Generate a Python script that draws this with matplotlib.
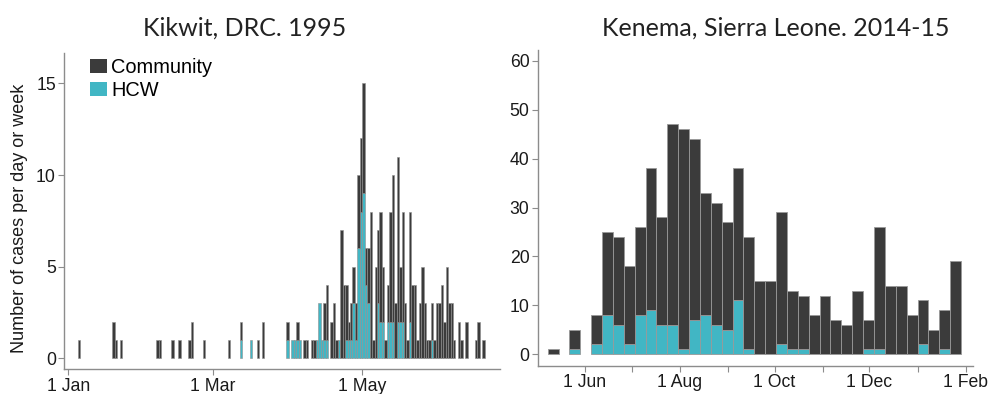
import numpy as np
import matplotlib.pyplot as plt
import matplotlib.dates as mdates
from matplotlib.patches import Patch
from matplotlib.ticker import FuncFormatter

plt.rcParams['font.family'] = ['Liberation Sans', 'DejaVu Sans']

# Kikwit, DRC 1995 - daily cases; day index counted from 1 Jan 1995
kik_day = [4, 18, 19, 21, 36, 37, 42, 45, 49, 50, 55, 65, 70, 74, 77, 79,
           89, 91, 92, 93, 94, 96, 97, 99, 100, 101, 102, 103, 104, 105,
           107, 108, 109, 110, 111, 112, 113, 114, 115, 116, 117, 118, 119,
           120, 121, 122, 123, 124, 125, 126, 127, 128, 129, 130, 131, 132,
           133, 134, 135, 136, 137, 138, 139, 140, 141, 142, 143, 144, 145,
           146, 147, 148, 149, 150, 151, 152, 153, 154, 155, 156, 157, 159,
           160, 162, 166, 167, 169]
kik_total = [1, 2, 1, 1, 1, 1, 1, 1, 1, 2, 1, 1, 2, 1, 1, 2,
             2, 1, 1, 2, 1, 1, 1, 1, 1, 1, 3, 1, 3, 4,
             2, 3, 1, 1, 7, 4, 4, 2, 3, 5, 3, 10, 12,
             15, 6, 6, 8, 1, 5, 7, 8, 5, 1, 4, 8, 10,
             3, 11, 5, 8, 3, 1, 8, 4, 4, 1, 3, 5, 3,
             1, 1, 3, 1, 3, 3, 4, 2, 5, 3, 3, 1, 2,
             1, 2, 1, 2, 1]
kik_hcw = [0, 0, 0, 0, 0, 0, 0, 0, 0, 0, 0, 0, 1, 1, 0, 0,
           1, 1, 1, 1, 1, 0, 0, 0, 0, 1, 3, 1, 1, 1,
           0, 0, 0, 1, 0, 0, 1, 1, 1, 3, 1, 6, 8,
           9, 4, 3, 0, 0, 0, 3, 2, 2, 0, 2, 2, 2,
           0, 2, 2, 2, 0, 0, 2, 0, 0, 0, 0, 0, 0,
           0, 0, 1, 0, 0, 0, 0, 0, 0, 0, 0, 0, 0,
           0, 0, 0, 0, 0]

# Kenema, Sierra Leone 2014-15 - weekly cases, first week starting 8 May 2014
ken_total = [1, 0, 5, 0, 8, 25, 24, 18, 26, 38, 28, 47, 46, 44, 33, 31, 27,
             38, 24, 15, 15, 29, 13, 12, 8, 12, 7, 6, 13, 7, 26, 14, 14, 8,
             11, 5, 9, 19]
ken_hcw = [0, 0, 1, 0, 2, 8, 6, 2, 8, 9, 6, 6, 1, 7, 8, 6, 5,
           11, 1, 0, 0, 2, 1, 1, 0, 0, 0, 0, 0, 1, 1, 0, 0, 0,
           2, 0, 1, 0]

DARK = '#3b3b3b'
CYAN = '#41b6c4'
AXGREY = '#8c8c8c'


def day_fmt(x, pos):
    d = mdates.num2date(x)
    return f"{d.day} {d:%b}"


def style_axes(ax):
    for s in ['top', 'right']:
        ax.spines[s].set_visible(False)
    for s in ['left', 'bottom']:
        ax.spines[s].set_color(AXGREY)
        ax.spines[s].set_linewidth(1.0)
    ax.tick_params(which='both', length=4, width=0.8, color=AXGREY,
                   labelsize=12.7, labelcolor='#1a1a1a', pad=2)


def stacked(ax, x, total, hcw, width, edge, lw):
    hcw = np.array(hcw)
    comm = np.array(total) - hcw
    m = hcw > 0
    ax.bar(x[m], hcw[m], width=width, align='edge', color=CYAN,
           edgecolor=edge, linewidth=lw)
    m = comm > 0
    ax.bar(x[m], comm[m], bottom=hcw[m], width=width, align='edge',
           color=DARK, edgecolor=edge, linewidth=lw)


fig = plt.figure(figsize=(9.89, 3.94), dpi=100)

# ---- left panel: Kikwit ----
ax1 = fig.add_axes([0.065, 0.0627, 0.4406, 0.802])
base1 = mdates.datestr2num('1995-01-01')
stacked(ax1, base1 + np.array(kik_day), kik_total, kik_hcw, 1, '#8f8f8f', 0.4)
ax1.set_xlim(base1 - 1.6, base1 + 176.2)
ax1.set_ylim(-0.6, 16.64)
ax1.set_yticks([0, 5, 10, 15])
ax1.xaxis.set_major_locator(mdates.MonthLocator(bymonth=[1, 3, 5]))
ax1.xaxis.set_major_formatter(FuncFormatter(day_fmt))
style_axes(ax1)
ax1.set_ylabel('Number of cases per day or week', fontsize=13,
               color='#1a1a1a', va='center')
ax1.yaxis.set_label_coords(-0.102, 0.477)

handles = [Patch(facecolor=DARK, edgecolor='none'),
           Patch(facecolor=CYAN, edgecolor='none')]
ax1.legend(handles, ['Community', 'HCW'], loc='upper left',
           bbox_to_anchor=(0.06, 0.985), frameon=False, fontsize=14.4,
           handlelength=0.83, handleheight=0.72, handletextpad=0.22,
           labelspacing=0.2, borderaxespad=0, borderpad=0)

# ---- right panel: Kenema ----
ax2 = fig.add_axes([0.5437, 0.0711, 0.4401, 0.802])
base2 = mdates.datestr2num('2014-05-08')
x2 = base2 + 7 * np.arange(len(ken_total))
stacked(ax2, x2, ken_total, ken_hcw, 7, '#999999', 0.6)
jun1 = mdates.datestr2num('2014-06-01')
ax2.set_xlim(jun1 - 30.4, jun1 + 249.7)
ax2.set_ylim(-2.4, 62.2)
ax2.set_yticks(range(0, 61, 10))
ax2.xaxis.set_major_locator(mdates.MonthLocator(bymonth=[6, 8, 10, 12, 2]))
ax2.xaxis.set_minor_locator(mdates.MonthLocator(bymonth=[7, 9, 11, 1]))
ax2.xaxis.set_major_formatter(FuncFormatter(day_fmt))
style_axes(ax2)

# titles
fig.text(0.2472, 1 - 36 / 394, 'Kikwit, DRC. 1995', ha='center',
         va='baseline', fontsize=18, family='Lato', color='#222222')
fig.text(0.7841, 1 - 36 / 394, 'Kenema, Sierra Leone. 2014-15', ha='center',
         va='baseline', fontsize=18, family='Lato', color='#222222')

fig.savefig('out.png', dpi=100)
